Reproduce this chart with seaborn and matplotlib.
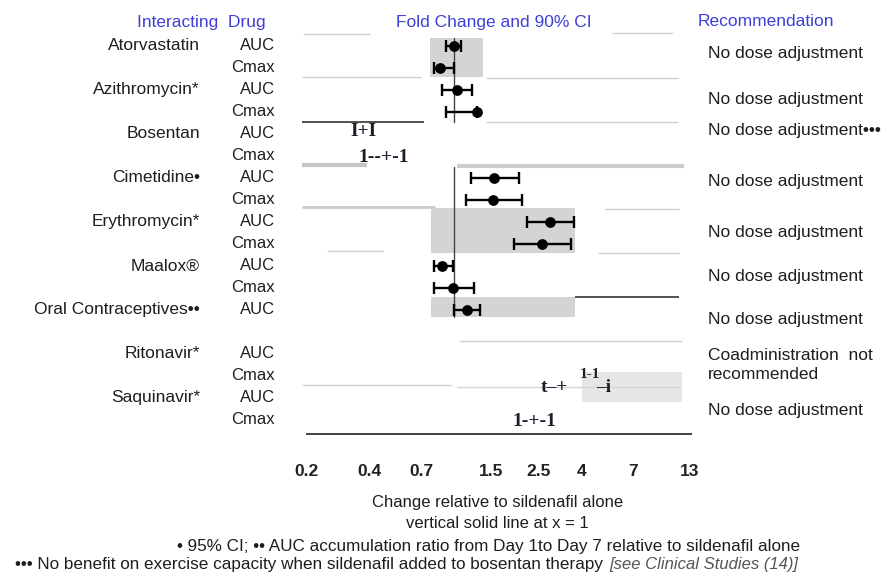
import numpy as np
import pandas as pd
import matplotlib
matplotlib.use("Agg")
import matplotlib.pyplot as plt
import matplotlib.transforms as mtransforms
import seaborn as sns

# ---------------- data ----------------
drugs = ["Atorvastatin", "Azithromycin*", "Bosentan", "Cimetidine•", "Erythromycin*",
         "Maalox®", "Oral Contraceptives••", "Ritonavir*", "Saquinavir*"]
drug_rows = [0, 2, 4, 6, 8, 10, 12, 14, 16]
params = ["AUC", "Cmax", "AUC", "Cmax", "AUC", "Cmax", "AUC", "Cmax", "AUC", "Cmax",
          "AUC", "Cmax", "AUC", "AUC", "Cmax", "AUC", "Cmax"]
param_rows = [0, 1, 2, 3, 4, 5, 6, 7, 8, 9, 10, 11, 12, 14, 15, 16, 17]

pt_rows = [0, 1, 2, 3, 6, 7, 8, 9, 10, 11, 12]
fold = [1.00, 0.86, 1.03, 1.28, 1.54, 1.53, 2.84, 2.60, 0.88, 0.99, 1.15]
ci_lo = [0.92, 0.80, 0.88, 0.92, 1.20, 1.14, 2.21, 1.92, 0.80, 0.80, 1.00]
ci_hi = [1.08, 1.00, 1.22, 1.29, 2.03, 2.09, 3.68, 3.57, 0.99, 1.24, 1.33]

tick_vals = [0.2, 0.4, 0.7, 1.5, 2.5, 4, 7, 13]
tick_labels = ["0.2", "0.4", "0.7", "1.5", "2.5", "4", "7", "13"]

recommendations = ["No dose adjustment", "No dose adjustment", "No dose adjustment•••",
                   "No dose adjustment", "No dose adjustment", "No dose adjustment",
                   "No dose adjustment", "Coadministration  not", "recommended",
                   "No dose adjustment"]
rec_rows = [0.32, 2.45, 3.82, 6.18, 8.5, 10.5, 12.45, 14.05, 14.95, 16.55]

# shaded bands (x0, x1, row0, row1, colour)
band_x0 = [0.77, 0.78, 0.78, 4.02]
band_x1 = [1.37, 3.72, 3.72, 11.9]
band_r0 = [-0.36, 7.36, 11.41, 14.82]
band_r1 = [1.41, 9.41, 12.32, 16.18]
band_col = ["#d4d4d4", "#d4d4d4", "#d4d4d4", "#e6e6e6"]

# stray rule segments (x0, x1, row, colour, width)
seg_x0 = [0.194, 5.57, 0.192, 1.42, 0.192, 1.42, 0.192, 1.03, 0.192, 5.16, 0.25, 4.78,
          3.72, 1.06, 0.192, 1.03, 0.20]
seg_x1 = [0.401, 10.8, 0.70, 11.4, 0.72, 11.4, 0.39, 12.2, 0.81, 11.6, 0.46, 11.6,
          11.6, 11.9, 0.98, 11.6, 13.3]
seg_r = [-0.55, -0.59, 1.41, 1.45, 3.45, 3.45, 5.41, 5.45, 7.32, 7.40, 9.32, 9.40,
         11.41, 13.41, 15.41, 15.50, 17.64]
seg_col = ["#cfcfcf", "#cfcfcf", "#cfcfcf", "#cfcfcf", "#222222", "#cfcfcf", "#c4c4c4",
           "#cccccc", "#cccccc", "#cfcfcf", "#cfcfcf", "#cfcfcf", "#222222", "#d0d0d0",
           "#cfcfcf", "#d6d6d6", "#333333"]
seg_lw = [1, 1, 1, 1, 1.1, 1, 3, 3, 2, 1, 1, 1, 1.1, 1, 1, 1, 1.3]

ref_r0 = [-0.36, 5.5]
ref_r1 = [3.45, 12.32]

# ---------------- figure ----------------
sns.set_theme(style="white")
plt.rcParams["font.family"] = ["Liberation Sans", "DejaVu Sans"]

W, H = 883, 584
fig = plt.figure(figsize=(W / 100, H / 100), dpi=100)
fig.patch.set_facecolor("white")
ax = fig.add_axes([290 / W, 1 - 445 / H, 410 / W, 415 / H])
ax.set_xscale("log")
ax.set_xlim(0.168, 14.5)
ax.set_ylim(18.14, -0.727)
for s in ax.spines.values():
    s.set_visible(False)
ax.set_yticks([])
ax.set_xticks(tick_vals)
ax.set_xticklabels(tick_labels)
ax.xaxis.set_minor_locator(matplotlib.ticker.NullLocator())
ax.tick_params(axis="x", length=0, pad=14)
for t in ax.get_xticklabels():
    t.set_family(["Liberation Sans Narrow", "Liberation Sans"])
    t.set_fontweight("bold")
    t.set_fontsize(12.5)
    t.set_color("#222222")
ax.set_facecolor("white")

# shaded bands
for x0, x1, r0, r1, c in zip(band_x0, band_x1, band_r0, band_r1, band_col):
    ax.fill_between([x0, x1], [r0, r0], [r1, r1], color=c, lw=0, zorder=0)

# stray segments
for x0, x1, r, c, lw in zip(seg_x0, seg_x1, seg_r, seg_col, seg_lw):
    ax.plot([x0, x1], [r, r], color=c, lw=lw, solid_capstyle="butt", zorder=1)

# reference line at x = 1
for r0, r1 in zip(ref_r0, ref_r1):
    ax.plot([1, 1], [r0, r1], color="#444444", lw=1.0, zorder=2)

# points + CIs
df = pd.DataFrame({"row": pt_rows, "fold": fold, "lo": ci_lo, "hi": ci_hi})
ax.errorbar(df["fold"], df["row"],
            xerr=[df["fold"] - df["lo"], df["hi"] - df["fold"]],
            fmt="none", ecolor="black", elinewidth=1.7, capsize=4.5, capthick=1.7, zorder=3)
sns.scatterplot(data=df, x="fold", y="row", ax=ax, color="black", s=60,
                edgecolor="black", linewidth=0, zorder=4, legend=False)
ax.set_xlabel("")
ax.set_ylabel("")

# ---------------- texts ----------------
def fx(px):
    return px / W

def fy(py):
    return 1 - py / H

blend = mtransforms.blended_transform_factory(fig.transFigure, ax.transData)
txt_col = "#1e1e1e"
hdr_col = "#3f3fd8"
fs = 12.5

fig.text(fx(137), fy(22), "Interacting  Drug", color=hdr_col, fontsize=fs, va="center", ha="left")
fig.text(fx(494), fy(22), "Fold Change and 90% CI", color=hdr_col, fontsize=fs, va="center", ha="center")
fig.text(fx(698), fy(22), "Recommendation", color=hdr_col, fontsize=fs, va="center", ha="left")

for name, r in zip(drugs, drug_rows):
    ax.text(fx(200), r, name, transform=blend, ha="right", va="center", fontsize=fs, color=txt_col)
for p, r in zip(params, param_rows):
    ax.text(fx(275), r, p, transform=blend, ha="right", va="center", fontsize=12, color=txt_col)
for rec, r in zip(recommendations, rec_rows):
    ax.text(fx(708), r, rec, transform=blend, ha="left", va="center", fontsize=fs, color=txt_col)

# scanned-artifact glyphs in the plot area
ocr_col = "#241a2c"
serif = ["Liberation Serif", "DejaVu Serif"]
fig.text(fx(363), fy(132), "I+I", family=serif, fontweight="bold", fontsize=14,
         color=ocr_col, ha="center", va="center")
fig.text(fx(384), fy(157), "1--+-1", family=serif, fontweight="bold", fontsize=14,
         color=ocr_col, ha="center", va="center")
fig.text(fx(554), fy(387), "t–+", family=serif, fontweight="bold", fontsize=14,
         color=ocr_col, ha="center", va="center")
fig.text(fx(590), fy(375), "1-1", family=serif, fontweight="bold", fontsize=11,
         color=ocr_col, ha="center", va="center")
fig.text(fx(604), fy(388), "–i", family=serif, fontweight="bold", fontsize=14,
         color=ocr_col, ha="center", va="center")
fig.text(fx(534), fy(422), "1-+-1", family=serif, fontweight="bold", fontsize=14,
         color=ocr_col, ha="center", va="center")

# axis caption + footnotes
fig.text(fx(498), fy(503), "Change relative to sildenafil alone", fontsize=12,
         color=txt_col, ha="center", va="center")
fig.text(fx(497), fy(524), "vertical solid line at x = 1", fontsize=12,
         color=txt_col, ha="center", va="center")
fig.text(fx(177), fy(546), "• 95% CI; •• AUC accumulation ratio from Day 1to Day 7 relative to sildenafil alone",
         fontsize=12.3, color=txt_col, ha="left", va="center")
t1 = fig.text(fx(15), fy(565), "••• No benefit on exercise capacity when sildenafil added to bosentan therapy ",
              fontsize=12.3, color=txt_col, ha="left", va="center")
fig.canvas.draw()
bb = t1.get_window_extent()
fig.text(bb.x1 / W + 0.002, fy(565), "[see Clinical Studies (14)]", fontsize=12,
         style="italic", color="#555555", ha="left", va="center")

fig.savefig("out.png", dpi=100, facecolor="white")
